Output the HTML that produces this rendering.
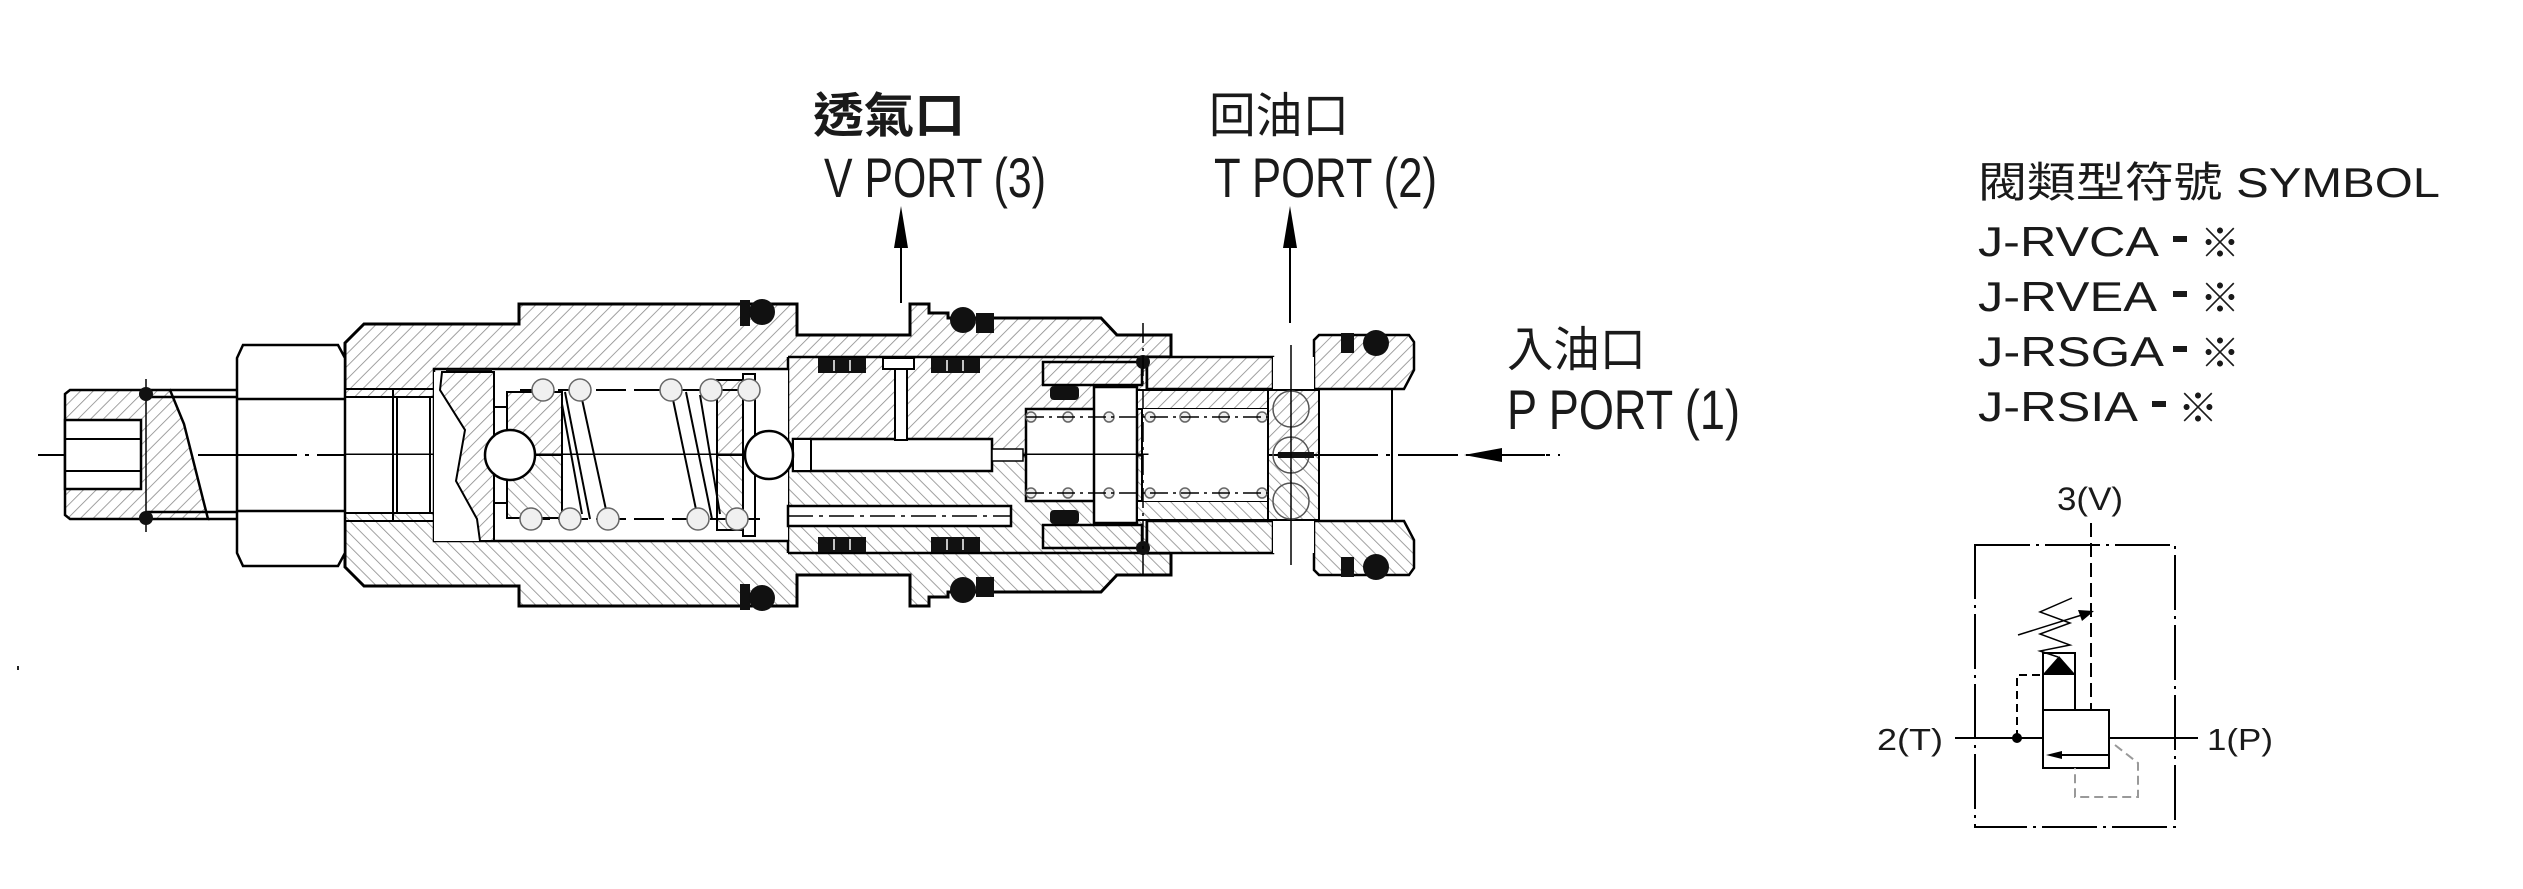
<!DOCTYPE html>
<html><head><meta charset="utf-8"><style>
html,body{margin:0;padding:0;background:#fff;}
svg{display:block;}
text{font-family:"Liberation Sans","Noto Sans CJK TC",sans-serif;fill:#1a1a1a;}
</style></head><body>
<svg width="2523" height="889" viewBox="0 0 2523 889" xmlns="http://www.w3.org/2000/svg">
<defs>
<pattern id="h" patternUnits="userSpaceOnUse" width="9" height="9" patternTransform="rotate(45)">
<rect width="9" height="9" fill="#fff"/><line x1="0" y1="0" x2="0" y2="9" stroke="#8a8a8a" stroke-width="1.6"/>
</pattern>
<g id="top">
<polygon points="345,455 345,343 364,324 519,324 519,304 797,304 797,335 910,335 910,304 929,304 929,313 948,313 948,318 1101,318 1117,335 1171,335 1171,357 1147,357 1147,455" fill="url(#h)" stroke="#000" stroke-width="3"/>
<line x1="788" y1="357" x2="1147" y2="357" stroke="#000" stroke-width="2.5"/>
<line x1="788" y1="357" x2="788" y2="455" stroke="#000" stroke-width="2.5"/>
<rect x="345" y="389" width="89" height="66" fill="#fff"/>
<rect x="345" y="389" width="89" height="8" fill="url(#h)" stroke="#000" stroke-width="2"/>
<line x1="393" y1="389" x2="393" y2="455" stroke="#000" stroke-width="2"/>
<line x1="397" y1="397" x2="397" y2="455" stroke="#000" stroke-width="2"/>
<line x1="430" y1="397" x2="430" y2="455" stroke="#000" stroke-width="2"/>
<rect x="434" y="369" width="354" height="86" fill="#fff"/>
<polyline points="434,455 434,369 788,369" fill="none" stroke="#000" stroke-width="2.5"/>
<rect x="446" y="369" width="46" height="21" fill="#111"/>
<rect x="1026" y="409" width="68" height="46" fill="#fff"/>
<polyline points="1026,455 1026,409 1094,409" fill="none" stroke="#000" stroke-width="2.5"/>
<rect x="1094" y="387" width="43" height="68" fill="#fff"/>
<polyline points="1094,455 1094,387 1137,387 1137,455" fill="none" stroke="#000" stroke-width="2.5"/>
<rect x="1043" y="362" width="99" height="23" fill="url(#h)" stroke="#000" stroke-width="2.5"/>
<rect x="1050" y="386" width="29" height="14" rx="4" fill="#111"/>
<rect x="1137" y="390" width="131" height="19" fill="url(#h)" stroke="#000" stroke-width="2"/>
<rect x="1142" y="409" width="126" height="46" fill="#fff"/>
<line x1="1142" y1="409" x2="1142" y2="455" stroke="#000" stroke-width="2"/>
<rect x="1147" y="357" width="126" height="32" fill="url(#h)" stroke="#000" stroke-width="2.5"/>
<rect x="1268" y="390" width="51" height="65" fill="url(#h)" stroke="#000" stroke-width="2"/>
<circle cx="1291" cy="409" r="18" fill="none" stroke="#555" stroke-width="1.5"/>
<polygon points="1314,340 1319,335 1409,335 1414,342 1414,370 1404,389 1314,389" fill="url(#h)" stroke="#000" stroke-width="2.5"/>
<rect x="1273" y="357" width="41" height="32" fill="#fff"/>
<line x1="1319" y1="389" x2="1319" y2="455" stroke="#000" stroke-width="2"/>
<line x1="1392" y1="389" x2="1392" y2="455" stroke="#000" stroke-width="2"/>
<rect x="1341" y="333" width="13" height="20" fill="#111"/>
<circle cx="1376" cy="343" r="13" fill="#111"/>
<rect x="818" y="358" width="48" height="15" fill="#111"/>
<rect x="931" y="358" width="49" height="15" fill="#111"/>
<line x1="834" y1="360" x2="834" y2="371" stroke="#fff" stroke-width="1.5"/><line x1="850" y1="360" x2="850" y2="371" stroke="#fff" stroke-width="1.5"/>
<line x1="947" y1="360" x2="947" y2="371" stroke="#fff" stroke-width="1.5"/><line x1="963" y1="360" x2="963" y2="371" stroke="#fff" stroke-width="1.5"/>
<rect x="740" y="300" width="10" height="26" fill="#111"/><circle cx="762" cy="312" r="13" fill="#111"/>
<circle cx="963" cy="320" r="13" fill="#111"/><rect x="976" y="313" width="18" height="20" fill="#111"/>
<circle cx="1143" cy="362" r="7" fill="#111"/>
<rect x="717" y="380" width="26" height="75" fill="url(#h)" stroke="#000" stroke-width="2"/>
<rect x="743" y="374" width="12" height="81" fill="#fff" stroke="#000" stroke-width="2"/>
<rect x="507" y="392" width="55" height="63" fill="url(#h)" stroke="#000" stroke-width="2"/>
<rect x="494" y="407" width="13" height="48" fill="#fff" stroke="#000" stroke-width="2"/>
<g fill="#eee" stroke="#666" stroke-width="1.5">
<circle cx="1031" cy="417" r="5"/><circle cx="1068" cy="417" r="5"/><circle cx="1109" cy="417" r="5"/><circle cx="1150" cy="417" r="5"/><circle cx="1185" cy="417" r="5"/><circle cx="1224" cy="417" r="5"/><circle cx="1262" cy="417" r="5"/>
</g>
<line x1="1026" y1="417" x2="1268" y2="417" stroke="#000" stroke-width="1.5" stroke-dasharray="18 5 3 5"/>
</g>
</defs>

<line x1="38" y1="455" x2="1560" y2="455" stroke="#000" stroke-width="2" stroke-dasharray="60 8 4 8"/>

<use href="#top"/>
<use href="#top" transform="translate(0,910) scale(1,-1)"/>

<rect x="793" y="439" width="199" height="32" fill="#fff" stroke="#000" stroke-width="2.5"/>
<rect x="793" y="439" width="18" height="32" fill="#fff" stroke="#000" stroke-width="2"/>
<rect x="992" y="449" width="31" height="12" fill="#fff" stroke="#000" stroke-width="1.5"/>
<rect x="895" y="357" width="12" height="83" fill="#fff" stroke="#000" stroke-width="2"/>
<rect x="883" y="358" width="31" height="11" fill="#fff" stroke="#000" stroke-width="2"/>
<rect x="788" y="506" width="223" height="20" fill="#fff" stroke="#000" stroke-width="2.5"/>
<line x1="788" y1="516" x2="1011" y2="516" stroke="#000" stroke-width="1.5" stroke-dasharray="25 6 4 6"/>

<polygon points="434,372 440,372 440,390 465,430 456,481 477,519 480,541 434,541" fill="#fff"/>
<polygon points="442,372 494,372 494,541 480,541 477,519 456,481 465,430 440,390" fill="url(#h)" stroke="#000" stroke-width="2"/>
<circle cx="510" cy="455" r="25" fill="#fff" stroke="#000" stroke-width="2.5"/>
<circle cx="769" cy="455" r="24" fill="#fff" stroke="#000" stroke-width="2.5"/>
<g stroke="#000" stroke-width="2" fill="none">
<line x1="580" y1="390" x2="608" y2="519"/><line x1="565" y1="392" x2="590" y2="519"/>
<line x1="562" y1="404" x2="582" y2="514"/>
<line x1="671" y1="390" x2="698" y2="519"/><line x1="686" y1="392" x2="712" y2="519"/>
<line x1="700" y1="395" x2="720" y2="514"/>
<line x1="520" y1="390" x2="760" y2="390" stroke-dasharray="30 8"/>
<line x1="520" y1="519" x2="760" y2="519" stroke-dasharray="30 8"/>
</g>
<g fill="#f0f0f0" stroke="#666" stroke-width="1.5">
<circle cx="543" cy="390" r="11"/><circle cx="580" cy="390" r="11"/><circle cx="671" cy="390" r="11"/><circle cx="711" cy="390" r="11"/><circle cx="749" cy="390" r="11"/>
<circle cx="531" cy="519" r="11"/><circle cx="570" cy="519" r="11"/><circle cx="608" cy="519" r="11"/><circle cx="698" cy="519" r="11"/><circle cx="737" cy="519" r="11"/>
</g>
<circle cx="1291" cy="455" r="18" fill="none" stroke="#555" stroke-width="1.5"/>
<rect x="1278" y="452" width="36" height="6" fill="#111"/>

<polygon points="65,394 70,390 170,390 184,424 208,519 70,519 65,515" fill="url(#h)" stroke="#000" stroke-width="2.5"/>
<rect x="65" y="420" width="76" height="69" fill="#fff" stroke="#000" stroke-width="2.5"/>
<line x1="65" y1="439" x2="141" y2="439" stroke="#000" stroke-width="2"/>
<line x1="65" y1="471" x2="141" y2="471" stroke="#000" stroke-width="2"/>
<g stroke="#000" stroke-width="2.5">
<line x1="170" y1="390" x2="237" y2="390"/><line x1="146" y1="397" x2="237" y2="397"/>
<line x1="208" y1="519" x2="237" y2="519"/><line x1="146" y1="512" x2="237" y2="512"/>
<line x1="146" y1="379" x2="146" y2="532" stroke-width="1.5"/>
</g>
<circle cx="146" cy="394" r="7" fill="#111"/><circle cx="146" cy="518" r="7" fill="#111"/>
<polygon points="237,358 243,345 338,345 345,358 345,553 338,566 243,566 237,553" fill="#fff" stroke="#000" stroke-width="2.5"/>
<line x1="237" y1="399" x2="345" y2="399" stroke="#000" stroke-width="2.5"/>
<line x1="237" y1="511" x2="345" y2="511" stroke="#000" stroke-width="2.5"/>
<line x1="237" y1="455" x2="345" y2="455" stroke="#000" stroke-width="2" stroke-dasharray="60 8 4 8"/>

<line x1="901" y1="240" x2="901" y2="303" stroke="#000" stroke-width="2"/>
<polygon points="901,206 894,248 908,248" fill="#000"/>
<line x1="1290" y1="240" x2="1290" y2="323" stroke="#000" stroke-width="2"/>
<polygon points="1290,206 1283,248 1297,248" fill="#000"/>
<line x1="1143" y1="323" x2="1143" y2="578" stroke="#000" stroke-width="1.5" stroke-dasharray="20 5 3 5"/>
<line x1="1291" y1="345" x2="1291" y2="565" stroke="#000" stroke-width="1.5"/>
<line x1="1490" y1="455" x2="1545" y2="455" stroke="#000" stroke-width="2"/>
<polygon points="1464,455 1502,448 1502,462" fill="#000"/>
<rect x="17" y="666" width="2" height="4" fill="#222"/>

<text x="813" y="132" font-size="48" font-weight="bold" textLength="152" lengthAdjust="spacingAndGlyphs">透氣口</text>
<text x="824" y="197" font-size="56" textLength="222" lengthAdjust="spacingAndGlyphs">V PORT (3)</text>
<text x="1209" y="132" font-size="48" textLength="140" lengthAdjust="spacingAndGlyphs">回油口</text>
<text x="1214" y="197" font-size="56" textLength="223" lengthAdjust="spacingAndGlyphs">T PORT (2)</text>
<text x="1507" y="366" font-size="48" textLength="139" lengthAdjust="spacingAndGlyphs">入油口</text>
<text x="1507" y="429" font-size="56" textLength="233" lengthAdjust="spacingAndGlyphs">P PORT (1)</text>

<text x="1978" y="197" font-size="42" textLength="462" lengthAdjust="spacingAndGlyphs">閥類型符號 SYMBOL</text>
<text x="1978" y="256" font-size="42" textLength="181" lengthAdjust="spacingAndGlyphs">J-RVCA</text>
<text x="1978" y="311" font-size="42" textLength="179" lengthAdjust="spacingAndGlyphs">J-RVEA</text>
<text x="1978" y="366" font-size="42" textLength="186" lengthAdjust="spacingAndGlyphs">J-RSGA</text>
<text x="1978" y="421" font-size="42" textLength="160" lengthAdjust="spacingAndGlyphs">J-RSIA</text>
<g fill="#1a1a1a">
<rect x="2173" y="236" width="14" height="6"/><rect x="2173" y="291" width="14" height="6"/><rect x="2173" y="346" width="14" height="6"/><rect x="2152" y="401" width="14" height="6"/>
</g>
<text x="2200" y="257" font-size="40">※</text>
<text x="2200" y="312" font-size="40">※</text>
<text x="2200" y="367" font-size="40">※</text>
<text x="2178" y="422" font-size="40">※</text>

<rect x="1975" y="545" width="200" height="282" fill="none" stroke="#000" stroke-width="2" stroke-dasharray="55 6 3 6"/>
<text x="2057" y="510" font-size="32" textLength="66" lengthAdjust="spacingAndGlyphs">3(V)</text>
<line x1="2091" y1="523" x2="2091" y2="710" stroke="#000" stroke-width="2" stroke-dasharray="14 6"/>
<polyline points="2072,598 2040,612 2070,623 2040,634 2070,645 2040,651 2058,657" fill="none" stroke="#000" stroke-width="1.5"/>
<line x1="2018" y1="635" x2="2085" y2="614" stroke="#000" stroke-width="1.5"/>
<polygon points="2094,611 2078,610 2082,621" fill="#000"/>
<rect x="2043" y="653" width="32" height="57" fill="none" stroke="#000" stroke-width="2"/>
<line x1="2043" y1="674" x2="2075" y2="674" stroke="#000" stroke-width="2"/>
<polygon points="2044,673 2074,673 2059,656" fill="#000"/>
<rect x="2043" y="710" width="66" height="58" fill="#fff" stroke="#000" stroke-width="2"/>
<line x1="2052" y1="755" x2="2109" y2="755" stroke="#000" stroke-width="2"/>
<polygon points="2046,755 2062,751 2062,759" fill="#000"/>
<text x="1877" y="750" font-size="31" textLength="66" lengthAdjust="spacingAndGlyphs">2(T)</text>
<line x1="1955" y1="738" x2="2043" y2="738" stroke="#000" stroke-width="2"/>
<circle cx="2017" cy="738" r="5" fill="#000"/>
<polyline points="2017,738 2017,675 2043,675" fill="none" stroke="#000" stroke-width="2" stroke-dasharray="8 5"/>
<line x1="2109" y1="738" x2="2198" y2="738" stroke="#000" stroke-width="2"/>
<text x="2207" y="750" font-size="31" textLength="66" lengthAdjust="spacingAndGlyphs">1(P)</text>
<polyline points="2115,745 2138,763 2138,797 2075,797 2075,768" fill="none" stroke="#999" stroke-width="2" stroke-dasharray="9 5"/>
</svg>
</body></html>
